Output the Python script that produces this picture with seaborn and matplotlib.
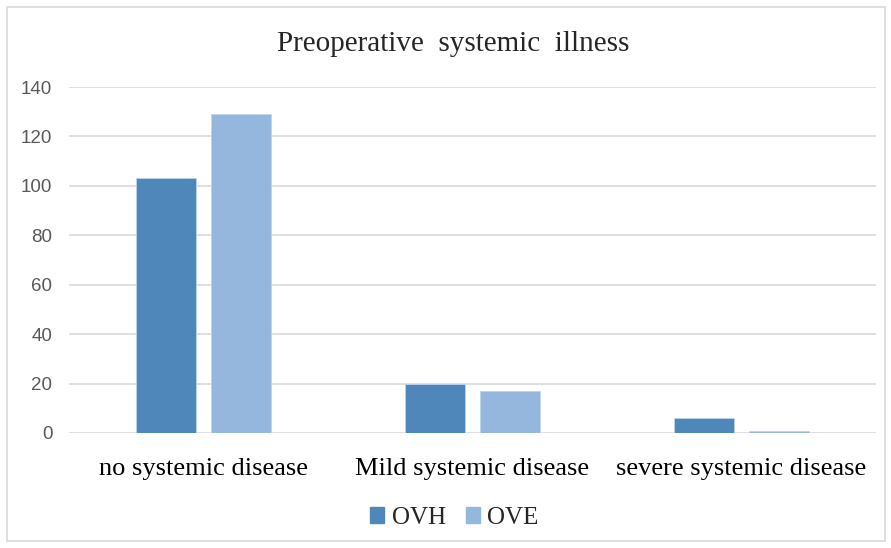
import matplotlib
matplotlib.use("Agg")
import matplotlib.pyplot as plt
import matplotlib.patches as mpatches
import pandas as pd
import seaborn as sns

categories = ["no systemic disease", "Mild systemic disease", "severe systemic disease"]
ovh = [103, 20, 6]
ove = [129, 17, 1]
series = ["OVH", "OVE"]
colors = ["#4F87BA", "#95B7DE"]

df = pd.DataFrame({
    "category": categories * 2,
    "value": ovh + ove,
    "group": ["OVH"] * 3 + ["OVE"] * 3,
})

sns.set_style("white")
plt.rcParams["font.family"] = ["Liberation Serif", "DejaVu Serif"]

fig = plt.figure(figsize=(8.91, 5.48), dpi=100)
ax = fig.add_axes([0.0774, 0.2099, 0.9057, 0.6313])

sns.barplot(data=df, x="category", y="value", hue="group", hue_order=series,
            palette=colors, order=categories, width=0.561, gap=0.205,
            saturation=1, edgecolor="#BFD3EA", linewidth=0.6, ax=ax, zorder=3)

ax.set_ylim(0, 140)
ax.set_yticks(range(0, 141, 20))
ax.grid(axis="y", color="#D9D9D9", linewidth=1.2, zorder=0)
ax.set_axisbelow(True)
for s in ax.spines.values():
    s.set_visible(False)
ax.set_xlabel("")
ax.set_ylabel("")
ax.tick_params(axis="y", length=0, pad=12, labelsize=13.5, labelcolor="#595959")
ax.tick_params(axis="x", length=0, pad=18, labelsize=19, labelcolor="#000000")
for t in ax.get_yticklabels():
    t.set_family(["Liberation Sans", "DejaVu Sans"])

fig.text(0.509, 0.92, "Preoperative  systemic  illness", ha="center", va="center", fontsize=21)

handles = [mpatches.Patch(color=c, label=s) for c, s in zip(colors, series)]
ax.get_legend().remove()
fig.legend(handles=handles, loc="center", bbox_to_anchor=(0.51, 0.055), ncol=2,
           frameon=False, fontsize=18, handlelength=0.55, handleheight=0.55,
           handletextpad=0.3, columnspacing=0.8)

fig.patches.append(mpatches.Rectangle((0.008, 0.012), 0.985, 0.976, transform=fig.transFigure,
                                      fill=False, edgecolor="#D9D9D9", linewidth=1.2))

fig.savefig("out.png", dpi=100)
